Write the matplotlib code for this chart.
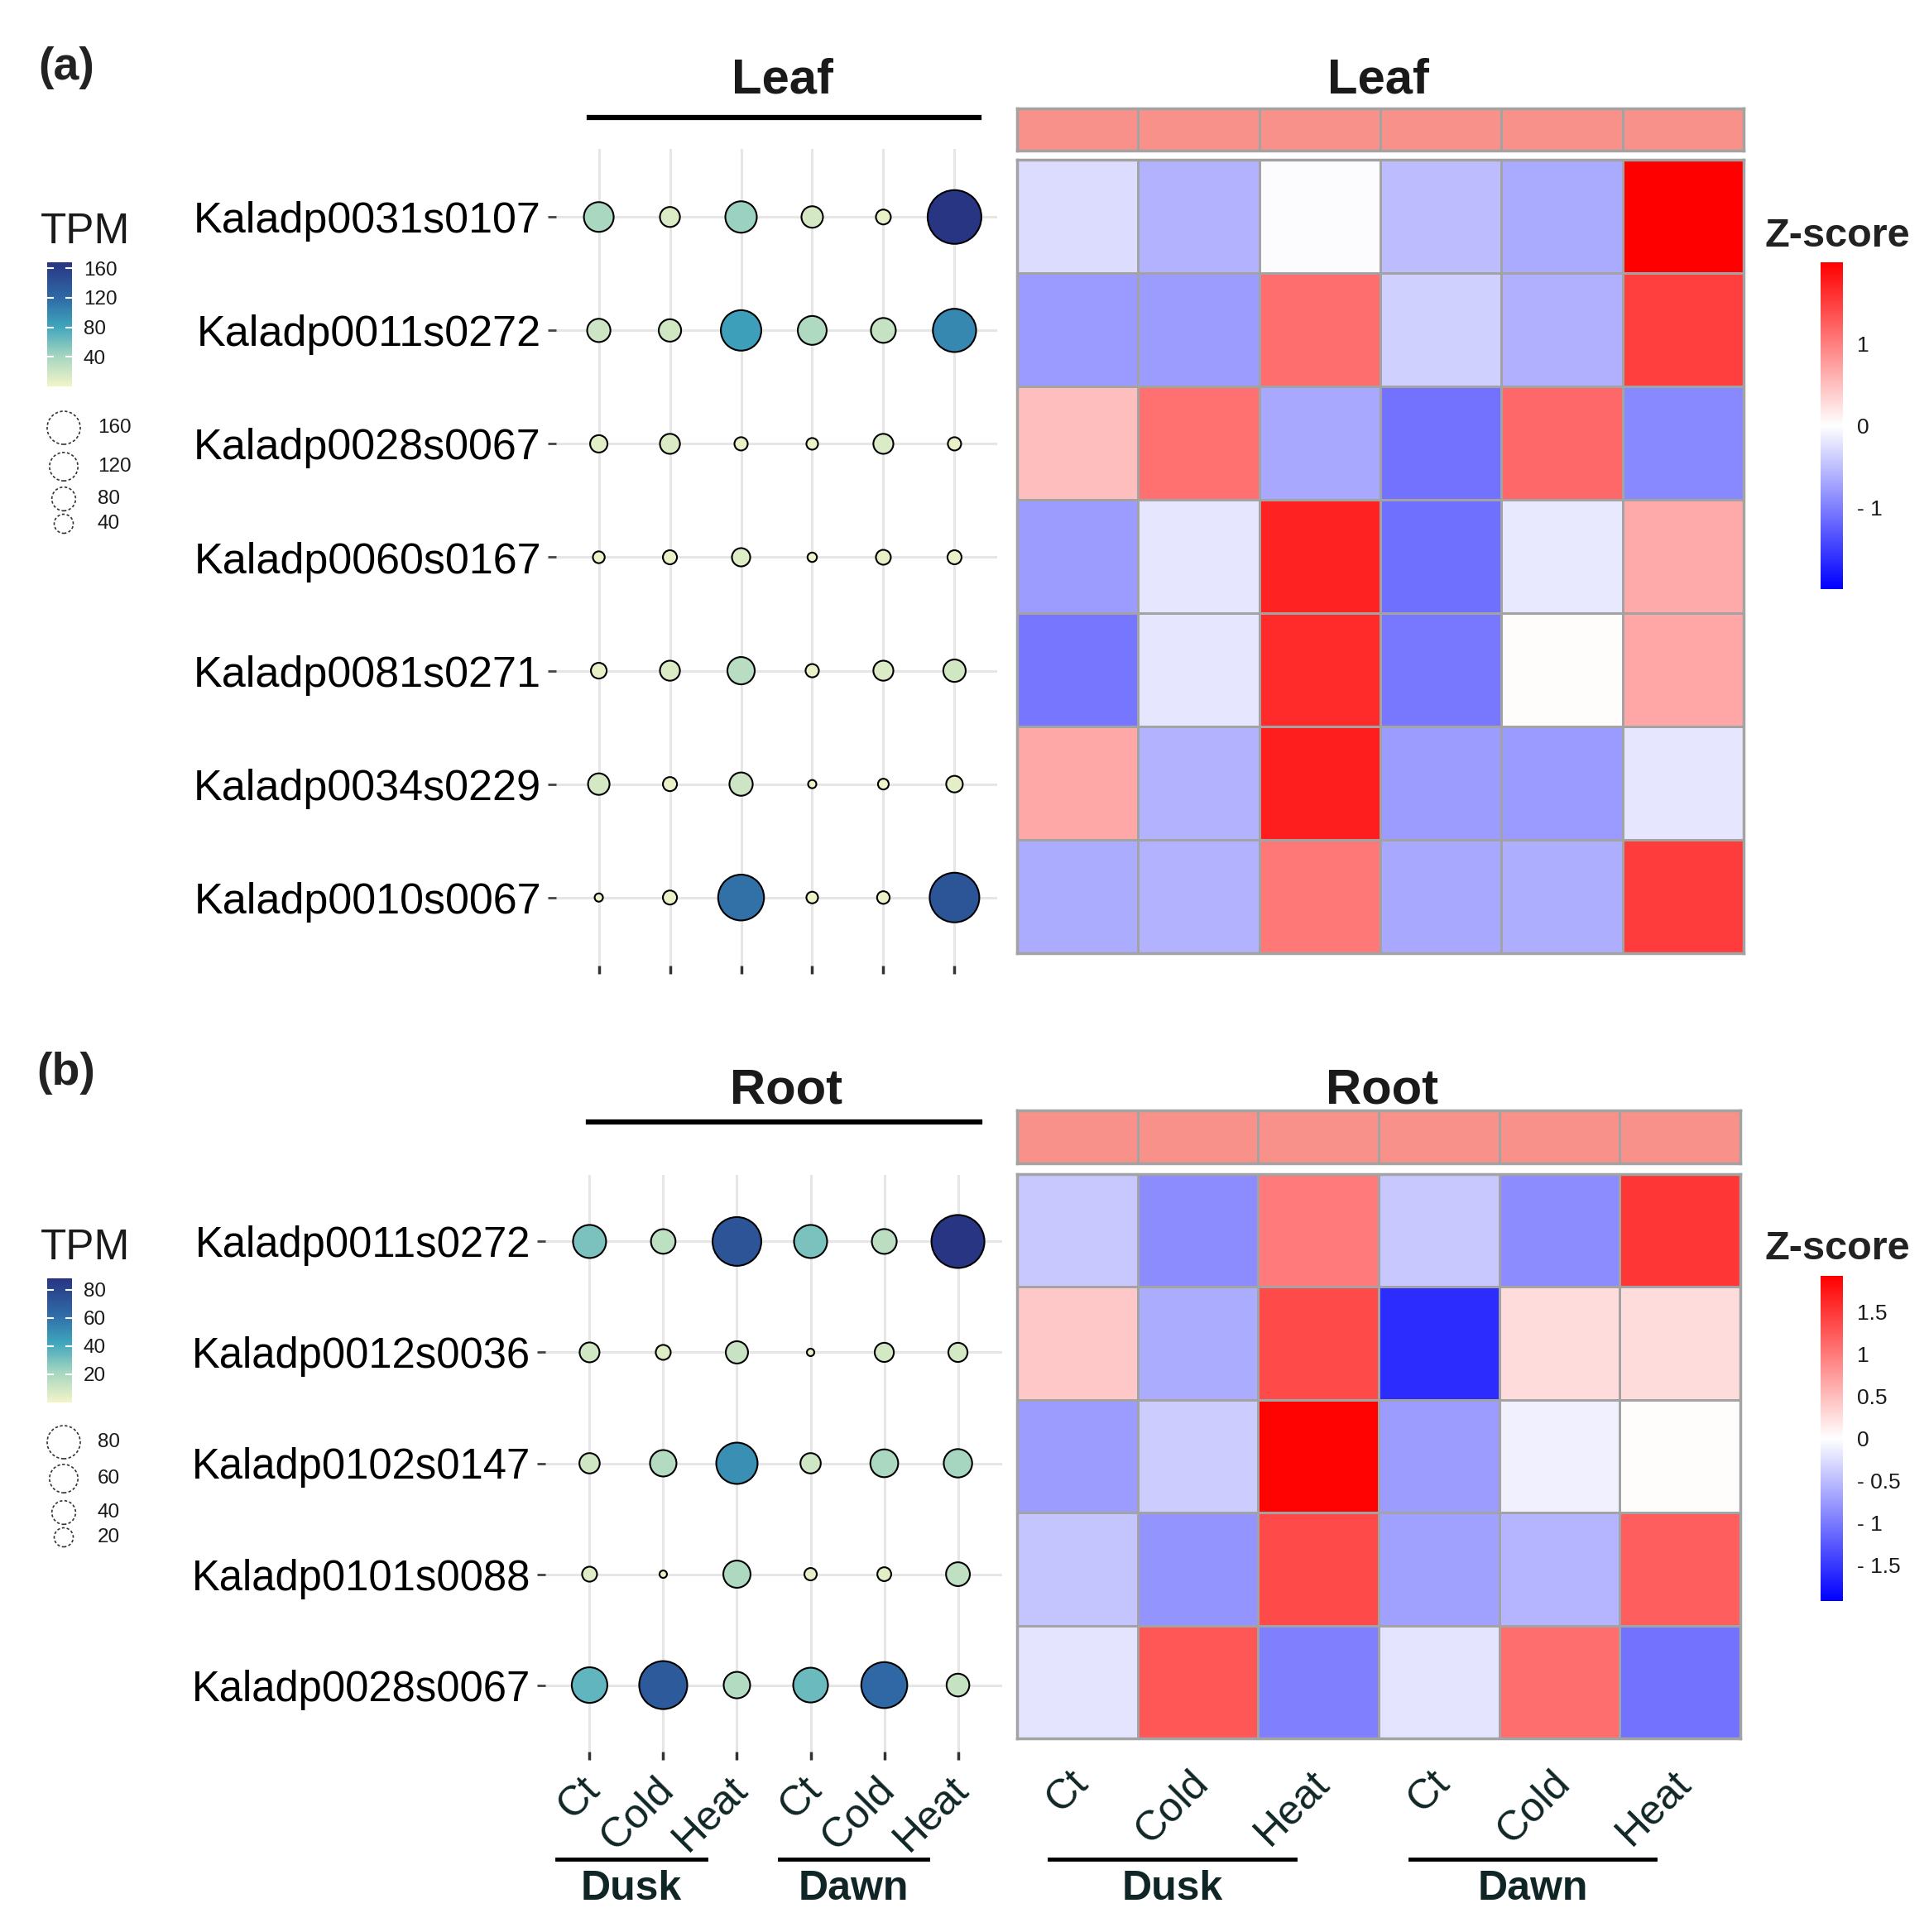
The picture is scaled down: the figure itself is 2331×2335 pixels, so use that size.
import numpy as np
import matplotlib
matplotlib.use('Agg')
import matplotlib.pyplot as plt
from matplotlib.colors import LinearSegmentedColormap, Normalize, ListedColormap
from matplotlib.cm import ScalarMappable
from matplotlib.lines import Line2D
from matplotlib.transforms import ScaledTranslation

plt.rcParams['font.family'] = ['Liberation Sans', 'DejaVu Sans']

# ---- data ----
conditions = ['Ct', 'Cold', 'Heat', 'Ct', 'Cold', 'Heat']
time_groups = ['Dusk', 'Dawn']

leaf_genes = ['Kaladp0031s0107', 'Kaladp0011s0272', 'Kaladp0028s0067', 'Kaladp0060s0167',
              'Kaladp0081s0271', 'Kaladp0034s0229', 'Kaladp0010s0067']
leaf_tpm = [[39, 13, 45, 16, 5.5, 168],
            [20, 18, 85, 36, 24, 100],
            [8.6, 13, 4, 2.9, 13, 4],
            [3, 4.7, 10, 2.1, 5.5, 4.7],
            [6.5, 13, 31, 4, 13, 18],
            [16, 4.7, 20, 2, 2.5, 7.5],
            [2, 4.7, 115, 2.9, 3.5, 139]]
leaf_z = [[-0.27, -0.60, -0.03, -0.52, -0.67, 2.00],
          [-0.79, -0.78, 1.14, -0.37, -0.62, 1.50],
          [0.50, 1.12, -0.68, -1.10, 1.18, -0.93],
          [-0.77, -0.20, 1.72, -1.12, -0.18, 0.66],
          [-1.07, -0.20, 1.67, -1.06, 0.02, 0.70],
          [0.68, -0.60, 1.75, -0.78, -0.79, -0.20],
          [-0.65, -0.60, 1.05, -0.68, -0.63, 1.53]]

root_genes = ['Kaladp0011s0272', 'Kaladp0012s0036', 'Kaladp0102s0147',
              'Kaladp0101s0088', 'Kaladp0028s0067']
root_tpm = [[30, 15, 73, 30, 15.4, 88],
            [9.3, 5.3, 12, 3, 8.6, 8.6],
            [9.8, 17.8, 50, 9.8, 20, 21],
            [5.3, 3, 19, 4, 4.7, 14],
            [35.5, 70.5, 17.8, 33.6, 63.8, 12.6]]
root_z = [[-0.41, -0.86, 1.00, -0.41, -0.86, 1.51],
          [0.41, -0.63, 1.36, -1.59, 0.26, 0.26],
          [-0.74, -0.38, 1.90, -0.74, -0.11, 0.02],
          [-0.44, -0.80, 1.36, -0.71, -0.56, 1.21],
          [-0.20, 1.27, -0.95, -0.20, 1.10, -1.07]]

leaf_tissue = ['Leaf'] * 6
root_tissue = ['Root'] * 6
tissue_colors = {'Leaf': '#f8918a', 'Root': '#f8918a'}

tpm_ticks_leaf = [40, 80, 120, 160]
tpm_ticks_root = [20, 40, 60, 80]
size_keys_leaf = [160, 120, 80, 40]
size_keys_root = [80, 60, 40, 20]
z_ticks_leaf = [-1, 0, 1]
z_ticks_root = [-1.5, -1, -0.5, 0, 0.5, 1, 1.5]

# ---- figure ----
W, H = 2331, 2335
fig = plt.figure(figsize=(W / 100, H / 100), dpi=100)


def rect(x0, y0, x1, y1):
    return [x0 / W, 1 - y1 / H, (x1 - x0) / W, (y1 - y0) / H]


def fx(x):
    return x / W


def fy(y):
    return 1 - y / H


tpm_cmap = LinearSegmentedColormap.from_list(
    'tpm', [(0, '#f2f4c8'), (0.24, '#a6d6c0'), (0.48, '#3fa6bd'),
            (0.71, '#2f6ba6'), (1, '#283583')])
z_cmap = LinearSegmentedColormap.from_list('z', ['#0000ff', '#ffffff', '#ff0000'])
txt = '#1a1a1a'
shift = ScaledTranslation(0.22, 0, fig.dpi_scale_trans)


def dot_panel(box, genes, tpm, dmin, dmax, xlabels, gene_size):
    ax = fig.add_axes(rect(*box))
    tpm = np.array(tpm, float)
    n = len(genes)
    xs, ys = np.meshgrid(np.arange(1, 7), np.arange(n, 0, -1))
    frac = (tpm - tpm.min()) / (tpm.max() - tpm.min())
    diam = dmin + (dmax - dmin) * np.sqrt(frac)
    norm = Normalize(0, tpm.max())
    ax.scatter(xs.ravel(), ys.ravel(), s=(diam.ravel() * 0.72) ** 2, c=tpm.ravel(),
               cmap=tpm_cmap, norm=norm, edgecolors='black', linewidths=1.5, zorder=3)
    ax.set_xlim(0.4, 6.6)
    ax.set_ylim(0.4, n + 0.6)
    ax.set_yticks(np.arange(n, 0, -1))
    ax.set_yticklabels(genes, fontsize=gene_size, color='black')
    ax.set_xticks(np.arange(1, 7))
    ax.grid(True, color='#e6e6e6', linewidth=2.2)
    ax.set_axisbelow(True)
    for s in ax.spines.values():
        s.set_visible(False)
    ax.tick_params(axis='y', length=7, width=2, color='#444444', pad=6)
    ax.tick_params(axis='x', length=7, width=2.5, color='#333333', pad=9)
    if xlabels:
        ax.set_xticklabels(conditions, rotation=45, ha='right', va='top',
                           fontsize=36, color='#102626')
        for lab in ax.get_xticklabels():
            lab.set_transform(lab.get_transform() + shift)
    else:
        ax.set_xticklabels([])
    return norm


def heat_panel(box, annot_box, z, lim, tissue, xlabels):
    z = np.array(z)
    ax = fig.add_axes(rect(*box))
    ax.pcolormesh(z, cmap=z_cmap, vmin=-lim, vmax=lim, edgecolors='#a3a3a3', linewidth=2)
    ax.set_xlim(0, z.shape[1])
    ax.set_ylim(z.shape[0], 0)
    ax.set_yticks([])
    for s in ax.spines.values():
        s.set_color('#a3a3a3')
        s.set_linewidth(2.5)
    if xlabels:
        ax.set_xticks(np.arange(z.shape[1]) + 0.5)
        ax.set_xticklabels(conditions, rotation=45, ha='right', va='top',
                           fontsize=36, color='#102626')
        ax.tick_params(axis='x', length=0, pad=22)
        for lab in ax.get_xticklabels():
            lab.set_transform(lab.get_transform() + shift)
    else:
        ax.set_xticks([])
    an = fig.add_axes(rect(*annot_box))
    names = sorted(set(tissue))
    codes = np.array([[names.index(t) for t in tissue]])
    an.pcolormesh(codes, cmap=ListedColormap([tissue_colors[t] for t in names]),
                  vmin=-0.5, vmax=len(names) - 0.5, edgecolors='#a3a3a3', linewidth=2)
    an.set_xticks([])
    an.set_yticks([])
    for s in an.spines.values():
        s.set_color('#a3a3a3')
        s.set_linewidth(2.5)


def tpm_legend(norm, ticks, keys, top, key_y):
    fig.text(fx(103), fy(top), 'TPM', ha='center', va='center', fontsize=37, color=txt)
    cax = fig.add_axes(rect(57, top + 37, 87, top + 187))
    cb = fig.colorbar(ScalarMappable(norm=norm, cmap=tpm_cmap), cax=cax)
    cb.outline.set_visible(False)
    cb.set_ticks(ticks)
    cax.tick_params(direction='in', length=6, width=1.5, color='white', labelsize=17.5,
                    labelcolor=txt, left=True, right=True, pad=10)
    lax = fig.add_axes(rect(30, key_y[0] - 30, 200, key_y[-1] + 20))
    lax.set_xlim(30, 200)
    lax.set_ylim(key_y[-1] + 20, key_y[0] - 30)
    lax.axis('off')
    lo, hi = min(keys), max(keys)
    d = [23 + 17 * (k - lo) / (hi - lo) for k in keys]
    lax.scatter([77] * len(keys), key_y, s=[(v * 0.72) ** 2 for v in d],
                facecolors='none', edgecolors='#333333', linewidths=1.2, linestyle=(0, (2, 1.5)))
    for k, y in zip(keys, key_y):
        lax.text(118, y, str(k), ha='left', va='center', fontsize=17.5, color=txt)


def z_legend(lim, ticks, top, bottom):
    fig.text(fx(2220), fy(top), 'Z-score', ha='center', va='center', fontsize=35,
             fontweight='bold', color='#222222')
    cax = fig.add_axes(rect(2200, top + 32, 2227, bottom))
    cb = fig.colorbar(ScalarMappable(norm=Normalize(-lim, lim), cmap=z_cmap), cax=cax)
    cb.outline.set_visible(False)
    cb.set_ticks(ticks)
    cb.set_ticklabels([('- ' + f'{abs(t):g}') if t < 0 else f'{t:g}' for t in ticks])
    cax.tick_params(length=0, labelsize=19, labelcolor=txt, pad=12)


def group_lines(segments, y_line, y_text):
    for (x0, x1), name in zip(segments, time_groups * (len(segments) // 2)):
        fig.add_artist(Line2D([fx(x0), fx(x1)], [fy(y_line)] * 2, color='black', lw=3.5))
        fig.text(fx((x0 + x1) / 2), fy(y_text), name, ha='center', va='center',
                 fontsize=36, fontweight='bold', color='#102626')


# ---- panel (a): leaf ----
fig.text(fx(80), fy(82), '(a)', ha='center', va='center', fontsize=40,
         fontweight='bold', color='#222222')
norm_a = dot_panel((672, 180, 1205, 1167), leaf_genes, leaf_tpm, 10, 65, False, 37.5)
fig.text(fx(945), fy(97), 'Leaf', ha='center', va='center', fontsize=43,
         fontweight='bold', color=txt)
fig.add_artist(Line2D([fx(712), fx(1183)], [fy(142)] * 2, color='black', lw=4.5))
heat_panel((1229, 193, 2107, 1152), (1229, 131, 2107, 182), leaf_z, 2.0, leaf_tissue, False)
fig.text(fx(1665), fy(97), 'Leaf', ha='center', va='center', fontsize=43,
         fontweight='bold', color=txt)
tpm_legend(norm_a, tpm_ticks_leaf, size_keys_leaf, 280, [517, 564, 603, 633])
z_legend(2.0, z_ticks_leaf, 285, 712)

# ---- panel (b): root ----
fig.text(fx(80), fy(1297), '(b)', ha='center', va='center', fontsize=40,
         fontweight='bold', color='#222222')
norm_b = dot_panel((659, 1420, 1211, 2117), root_genes, root_tpm, 9, 64, True, 36.5)
fig.text(fx(950), fy(1318), 'Root', ha='center', va='center', fontsize=43,
         fontweight='bold', color=txt)
fig.add_artist(Line2D([fx(711), fx(1184)], [fy(1356)] * 2, color='black', lw=4.5))
heat_panel((1229, 1419, 2103, 2101), (1229, 1342, 2103, 1406), root_z, 1.93, root_tissue, True)
fig.text(fx(1670), fy(1318), 'Root', ha='center', va='center', fontsize=43,
         fontweight='bold', color=txt)
tpm_legend(norm_b, tpm_ticks_root, size_keys_root, 1508, [1743, 1787, 1828, 1858])
z_legend(1.93, z_ticks_root, 1510, 1935)

group_lines([(673, 853), (942, 1121)], 2247, 2283)
group_lines([(1268, 1565), (1704, 2000)], 2247, 2283)

fig.savefig('out.png', dpi=100, facecolor='white')
